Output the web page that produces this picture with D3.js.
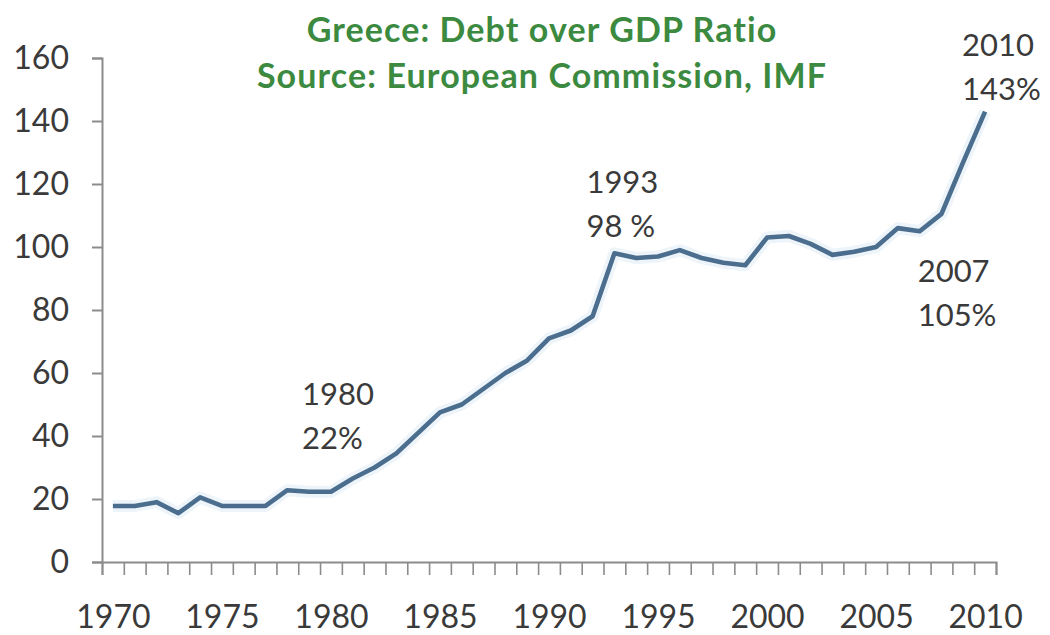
<!DOCTYPE html>
<html>
<head>
<meta charset="utf-8">
<script src="https://cdn.jsdelivr.net/npm/d3@7"></script>
<style>
  body { margin: 0; background: #fff; }
  text { font-family: Lato, "Open Sans", sans-serif; }
</style>
</head>
<body>
<div id="chart"></div>
<script>
// Data (debt as % of GDP)
const years = d3.range(1970, 2011);
const debt = [
  17.8, 17.8, 19, 15.5, 20.5, 17.8, 17.8, 17.8, 22.8, 22.3,
  22.3, 26.5, 30, 34.5, 41, 47.5, 50, 55, 60, 64,
  71, 73.5, 78, 98, 96.5, 97, 99, 96.5, 95, 94.2,
  103, 103.5, 101, 97.5, 98.5, 100, 106, 105, 110.5, 127,
  143
];
const yTicks = [0, 20, 40, 60, 80, 100, 120, 140, 160];
const xLabelYears = [1970, 1975, 1980, 1985, 1990, 1995, 2000, 2005, 2010];
const titleLines = ["Greece: Debt over GDP Ratio", "Source: European Commission, IMF"];
const annoYears = [1980, 1993, 2007, 2010];
const annoLabels = [["1980", "22%"], ["1993", "98 %"], ["2007", "105%"], ["2010", "143%"]];

// Layout
const W = 1050, H = 635;
const margin = { top: 58, right: 54, bottom: 73, left: 102 };
const width = W - margin.left - margin.right;
const height = H - margin.top - margin.bottom;

const svg = d3.select("#chart")
  .append("svg")
  .attr("width", W)
  .attr("height", H);

const g = svg.append("g")
  .attr("transform", `translate(${margin.left},${margin.top})`);

// Scales: categories sit between tick marks, like an Excel category axis
const x = d3.scaleLinear()
  .domain([years[0] - 0.5, years[years.length - 1] + 0.5])
  .range([0, width]);

const y = d3.scaleLinear()
  .domain([0, 160])
  .range([height, 0]);

const axisColor = "#8c8c8c";
const textColor = "#3a3a3a";

// Y axis
const yAxis = g.append("g")
  .call(d3.axisLeft(y).tickValues(yTicks).tickSize(10).tickPadding(23));
yAxis.select(".domain").attr("stroke", axisColor).attr("stroke-width", 2);
yAxis.selectAll(".tick line").attr("stroke", axisColor).attr("stroke-width", 2);
yAxis.selectAll(".tick text")
  .attr("fill", textColor)
  .style("font-size", "32px");

// X axis: tick marks at category boundaries
const boundaries = d3.range(years[0] - 0.5, years[years.length - 1] + 1, 1);
const xTickAxis = g.append("g")
  .attr("transform", `translate(0,${height})`)
  .call(d3.axisBottom(x).tickValues(boundaries).tickSize(13).tickFormat(""));
xTickAxis.select(".domain").attr("stroke", axisColor).attr("stroke-width", 2);
xTickAxis.selectAll(".tick line").attr("stroke", axisColor).attr("stroke-width", 1.6);

// X axis labels every five years, centred on the category
const xLabelAxis = g.append("g")
  .attr("transform", `translate(0,${height})`)
  .call(d3.axisBottom(x).tickValues(xLabelYears).tickSize(0).tickPadding(43).tickFormat(d3.format("d")));
xLabelAxis.select(".domain").remove();
xLabelAxis.selectAll(".tick text")
  .attr("fill", textColor)
  .style("font-size", "32px");

// Line
const points = years.map((yr, i) => ({ year: yr, value: debt[i] }));
const line = d3.line()
  .x(d => x(d.year))
  .y(d => y(d.value));

g.append("path")
  .datum(points)
  .attr("fill", "none")
  .attr("stroke", "#edf4fa")
  .attr("stroke-width", 12)
  .attr("stroke-linejoin", "round")
  .attr("d", line);

g.append("path")
  .datum(points)
  .attr("fill", "none")
  .attr("stroke", "#4b6d8e")
  .attr("stroke-width", 4.6)
  .attr("stroke-linejoin", "round")
  .attr("d", line);

// Annotations, offset from their points
const annoOffsets = { 1980: [-29, -87], 1993: [-28, -60], 2007: [-2, 51], 2010: [-23, -56] };
annoYears.forEach((yr, i) => {
  const v = debt[years.indexOf(yr)];
  const [dx, dy] = annoOffsets[yr];
  const t = g.append("text")
    .attr("x", x(yr) + dx)
    .attr("y", y(v) + dy)
    .attr("fill", textColor)
    .style("font-size", "31px");
  annoLabels[i].forEach((s, j) => {
    t.append("tspan")
      .attr("x", x(yr) + dx)
      .attr("dy", j === 0 ? 0 : 44)
      .text(s);
  });
});

// Title
svg.append("g")
  .selectAll("text")
  .data(titleLines)
  .enter().append("text")
  .attr("x", 542)
  .attr("y", (d, i) => 42 + i * 46)
  .attr("text-anchor", "middle")
  .attr("fill", "#3b8a3f")
  .style("font-size", "34px")
  .style("font-weight", "bold")
  .style("letter-spacing", "1.1px")
  .text(d => d);
</script>
</body>
</html>
